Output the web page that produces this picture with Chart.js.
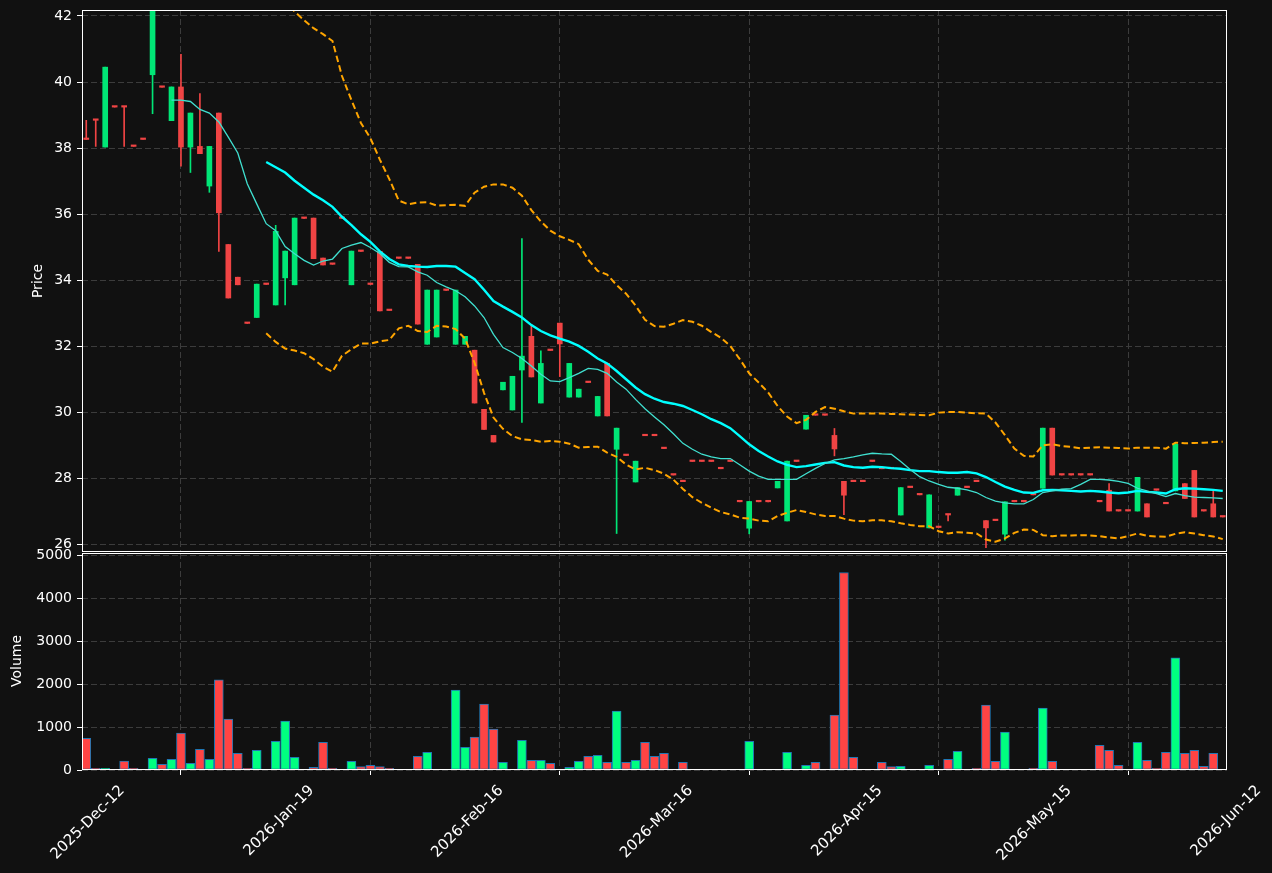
<!DOCTYPE html>
<html><head><meta charset="utf-8">
<script src="https://cdn.jsdelivr.net/npm/chart.js@4.4.1/dist/chart.umd.min.js"></script>
<style>
html,body{margin:0;padding:0;background:#111111;width:1272px;height:873px;overflow:hidden;}
canvas{position:absolute;left:0;}
#pc{top:0;} #vc{top:540px;}
</style></head><body>
<canvas id="pc" width="1272" height="560"></canvas>
<canvas id="vc" width="1272" height="333"></canvas>
<script>
const tickPositions = [0, 20, 40, 60, 80, 100, 120];
const tickLabels = ['2025-Dec-12', '2026-Jan-19', '2026-Feb-16', '2026-Mar-16', '2026-Apr-15', '2026-May-15', '2026-Jun-12'];
const priceTicks = [26, 28, 30, 32, 34, 36, 38, 40, 42];
const volumeTicks = [0, 1000, 2000, 3000, 4000, 5000];

const openP = [38.26,38.84,38.03,39.24,39.24,38.05,38.26,40.22,39.84,38.83,39.85,38.03,38.05,36.85,39.06,35.08,34.09,32.69,32.87,33.87,
33.25,34.07,33.86,35.87,35.88,34.67,34.48,35.87,33.86,34.87,33.87,34.87,33.08,34.66,34.66,34.48,32.06,32.28,33.69,32.06,
32.06,31.88,30.09,29.30,30.68,30.07,31.28,32.30,30.28,31.87,32.70,30.46,30.46,30.90,29.89,31.48,28.88,28.69,27.89,29.29,
29.29,28.90,28.10,27.90,28.51,28.51,28.51,28.29,28.51,27.29,26.49,27.29,27.29,27.71,26.71,28.51,29.49,29.91,29.91,29.30,
27.91,27.90,27.90,28.51,28.29,28.29,26.89,27.72,27.50,26.50,26.51,26.89,27.49,27.72,27.90,26.72,26.72,26.31,27.29,27.29,
27.50,27.70,29.52,28.10,28.10,28.10,28.10,27.29,27.64,27.01,27.01,27.01,27.23,27.64,27.23,27.62,27.84,28.24,27.01,27.23,26.83];
const highP = [38.84,38.84,40.45,39.24,39.24,38.05,38.26,42.47,39.84,39.85,40.84,39.06,39.65,38.05,39.06,35.08,34.09,32.69,33.88,33.87,
35.66,34.88,35.88,35.87,35.88,34.67,34.48,35.87,34.88,34.87,33.87,34.87,33.08,34.66,34.66,34.48,33.70,33.70,33.69,33.70,
32.30,31.88,30.09,29.30,30.91,31.09,35.26,32.62,31.86,31.87,32.70,31.48,30.70,30.90,30.48,31.48,29.52,28.69,28.52,29.29,
29.29,28.90,28.10,27.90,28.51,28.51,28.51,28.29,28.51,27.29,27.30,27.29,27.29,27.91,28.52,28.51,29.91,29.91,29.91,29.51,
27.91,27.90,27.90,28.51,28.29,28.29,27.72,27.72,27.50,27.50,26.51,26.89,27.72,27.72,27.90,26.72,26.72,27.29,27.29,27.29,
27.50,29.52,29.52,28.10,28.10,28.10,28.10,27.29,27.84,27.01,27.01,28.03,27.23,27.64,27.23,29.09,27.84,28.24,27.01,27.64,26.83];
const lowP = [38.26,38.05,38.03,39.24,38.05,38.05,38.26,39.04,39.84,38.83,37.45,37.26,37.83,36.66,34.87,33.46,33.86,32.69,32.87,33.87,
33.25,33.25,33.86,35.87,34.65,34.46,34.48,35.87,33.86,34.87,33.87,33.07,33.08,34.66,34.66,32.67,32.06,32.28,33.69,32.06,
32.06,30.28,29.48,29.10,30.68,30.07,29.69,31.07,30.28,31.87,31.08,30.46,30.46,30.90,29.89,29.89,26.33,28.69,27.89,29.29,
29.29,28.90,28.10,27.90,28.51,28.51,28.51,28.29,28.51,27.29,26.32,27.29,27.29,27.71,26.71,28.51,29.49,29.91,29.91,28.68,
26.90,27.90,27.90,28.51,28.29,28.29,26.89,27.72,27.50,26.50,26.51,26.71,27.49,27.72,27.90,25.90,26.72,26.13,27.29,27.29,
27.50,27.70,28.10,28.10,28.10,28.10,28.10,27.29,27.01,27.01,27.01,27.01,26.83,27.64,27.23,27.62,27.39,26.83,27.01,26.83,26.83];
const closeP = [38.26,38.84,40.45,39.24,39.24,38.05,38.26,42.47,39.84,39.85,38.03,39.06,37.83,38.05,36.04,33.46,33.86,32.69,33.88,33.87,
35.48,34.88,35.88,35.87,34.65,34.46,34.48,35.87,34.88,34.87,33.87,33.07,33.08,34.66,34.66,32.67,33.70,33.70,33.69,33.70,
32.30,30.28,29.48,29.10,30.91,31.09,31.70,31.07,31.48,31.87,32.07,31.48,30.70,30.90,30.48,29.89,29.52,28.69,28.52,29.29,
29.29,28.90,28.10,27.90,28.51,28.51,28.51,28.29,28.51,27.29,27.30,27.29,27.29,27.91,28.52,28.51,29.91,29.91,29.91,28.89,
27.49,27.90,27.90,28.51,28.29,28.29,27.72,27.72,27.50,27.50,26.51,26.89,27.72,27.72,27.90,26.50,26.72,27.29,27.29,27.29,
27.50,29.52,28.10,28.10,28.10,28.10,28.10,27.29,27.01,27.01,27.01,28.03,26.83,27.64,27.23,29.03,27.39,26.83,27.01,26.83,26.83];
const volume = [742,39,39,0,211,39,0,273,133,250,859,156,484,250,2102,1188,391,39,461,0,
672,1141,297,0,63,648,39,16,203,78,109,78,39,0,0,320,414,16,0,1867,
531,766,1539,953,180,16,695,227,227,156,16,63,203,320,344,180,1375,180,227,648,
320,391,0,180,0,0,0,12,12,12,672,0,0,16,414,0,109,180,0,1281,
4609,297,0,16,180,78,86,16,16,109,0,250,438,0,39,1516,203,883,0,0,
39,1445,203,0,0,0,0,578,461,109,0,648,227,39,414,2617,391,461,86,391,0];

const ma10Start = 9;
const ma10 = [39.45,39.45,39.41,39.17,39.06,38.79,38.33,37.85,36.92,36.31,35.71,35.50,35.02,34.80,34.60,34.46,34.58,34.64,34.96,35.06,
35.14,34.99,34.81,34.54,34.41,34.40,34.25,34.15,33.93,33.80,33.68,33.50,33.22,32.87,32.36,31.96,31.81,31.63,31.40,31.15,
30.95,30.93,31.05,31.18,31.33,31.30,31.18,30.92,30.70,30.39,30.11,29.86,29.62,29.35,29.06,28.88,28.73,28.65,28.60,28.60,
28.41,28.22,28.07,27.97,27.97,27.97,27.97,28.14,28.30,28.45,28.56,28.60,28.65,28.71,28.76,28.74,28.73,28.51,28.27,28.05,
27.92,27.82,27.73,27.70,27.65,27.57,27.42,27.31,27.26,27.23,27.23,27.36,27.57,27.62,27.67,27.69,27.82,27.97,27.97,27.95,
27.91,27.85,27.70,27.62,27.54,27.45,27.54,27.48,27.43,27.42,27.41,27.39];
const bandStart = 19;
const ma20 = [37.58,37.42,37.26,37.01,36.80,36.59,36.42,36.22,35.92,35.67,35.39,35.16,34.87,34.64,34.48,34.43,34.41,34.40,34.43,34.43,
34.41,34.22,34.03,33.71,33.37,33.20,33.04,32.87,32.64,32.46,32.33,32.23,32.14,32.01,31.83,31.63,31.48,31.25,31.00,30.75,
30.55,30.41,30.31,30.26,30.19,30.07,29.94,29.79,29.67,29.52,29.28,29.03,28.83,28.66,28.51,28.41,28.34,28.37,28.42,28.47,
28.49,28.39,28.34,28.32,28.35,28.34,28.31,28.29,28.25,28.22,28.22,28.19,28.17,28.17,28.19,28.15,28.04,27.89,27.75,27.65,
27.57,27.56,27.64,27.65,27.64,27.62,27.60,27.62,27.60,27.57,27.55,27.57,27.62,27.59,27.57,27.54,27.67,27.70,27.69,27.67,
27.65,27.62];
const upperBand = [42.77,42.70,42.50,42.13,41.87,41.63,41.45,41.24,40.18,39.45,38.76,38.30,37.65,37.06,36.41,36.30,36.35,36.36,36.26,36.27,
36.28,36.25,36.65,36.83,36.90,36.90,36.80,36.56,36.12,35.78,35.50,35.33,35.22,35.09,34.62,34.28,34.17,33.85,33.59,33.23,
32.80,32.61,32.59,32.68,32.79,32.74,32.62,32.43,32.26,32.01,31.61,31.18,30.90,30.60,30.19,29.87,29.67,29.77,30.01,30.16,
30.11,30.03,29.96,29.96,29.96,29.96,29.95,29.94,29.93,29.92,29.91,29.99,30.01,30.01,29.99,29.97,29.96,29.69,29.31,28.90,
28.68,28.66,29.00,29.03,28.98,28.95,28.91,28.93,28.94,28.93,28.92,28.90,28.93,28.93,28.93,28.90,29.08,29.06,29.07,29.08,
29.10,29.11];
const lowerBand = [32.39,32.13,31.93,31.87,31.79,31.61,31.38,31.23,31.71,31.91,32.08,32.08,32.15,32.19,32.54,32.62,32.46,32.43,32.62,32.60,
32.52,32.23,31.50,30.59,29.84,29.50,29.28,29.18,29.16,29.11,29.13,29.11,29.05,28.93,28.95,28.96,28.78,28.65,28.42,28.27,
28.32,28.25,28.14,27.96,27.68,27.43,27.26,27.11,26.98,26.91,26.81,26.78,26.72,26.70,26.86,26.96,27.04,26.98,26.91,26.86,
26.86,26.78,26.72,26.70,26.73,26.73,26.70,26.64,26.59,26.55,26.55,26.40,26.33,26.37,26.35,26.33,26.15,26.08,26.18,26.35,
26.45,26.44,26.28,26.25,26.27,26.27,26.28,26.27,26.25,26.21,26.18,26.25,26.33,26.26,26.24,26.23,26.32,26.37,26.33,26.28,
26.24,26.16];

const UP = '#00E676', DOWN = '#F04444', VUP = '#00FF80', VDOWN = '#FF4444';
const GRID = '#3c3c3c';
const FONT = {family: '"DejaVu Sans", sans-serif', size: 14};
const XFONT = {family: '"DejaVu Sans", sans-serif', size: 15};
const candleColors = closeP.map((c, i) => c > openP[i] ? UP : DOWN);
const volColors = closeP.map((c, i) => c > openP[i] ? VUP : VDOWN);

const framePlugin = {
  id: 'frame',
  afterDraw(chart, args, opts) {
    const {ctx, chartArea: a} = chart;
    ctx.save();
    ctx.strokeStyle = '#ffffff';
    ctx.lineWidth = 1;
    ctx.strokeRect(Math.round(a.left) + 0.5, Math.round(a.top) + 0.5, Math.round(a.right - a.left) - 1, Math.round(a.bottom - a.top) - 1);
    if (opts.title) {
      ctx.translate(opts.tx, opts.ty);
      ctx.rotate(-Math.PI / 2);
      ctx.fillStyle = '#ffffff';
      ctx.font = '14px "DejaVu Sans", sans-serif';
      ctx.textAlign = 'center';
      ctx.textBaseline = 'middle';
      ctx.fillText(opts.title, 0, 0);
    }
    ctx.restore();
  }
};

const pts = (arr, start) => arr.map((v, k) => ({x: k + start, y: v}));
const noPadY = w => s => { s.width = w; s.paddingTop = 0; s.paddingBottom = 0; };

const xBase = {
  type: 'linear', min: -0.45, max: 120.45, offset: false,
  afterBuildTicks: s => { s.ticks = tickPositions.map(v => ({value: v})); },
  border: {display: false, dash: [6, 3]}
};

new Chart(document.getElementById('pc'), {
  type: 'bar',
  data: {datasets: [
    {type: 'line', label: 'MA10', data: pts(ma10, ma10Start), borderColor: '#40E0D0', borderWidth: 1.3, pointRadius: 0, tension: 0, order: 0},
    {type: 'line', label: 'MA20', data: pts(ma20, bandStart), borderColor: '#00FFFF', borderWidth: 2.4, pointRadius: 0, tension: 0, order: 0},
    {type: 'line', label: 'Upper', data: pts(upperBand, bandStart), borderColor: '#FFA500', borderWidth: 2, borderDash: [6.5, 3.5], pointRadius: 0, tension: 0, order: 0},
    {type: 'line', label: 'Lower', data: pts(lowerBand, bandStart), borderColor: '#FFA500', borderWidth: 2, borderDash: [6.5, 3.5], pointRadius: 0, tension: 0, order: 0},
    {label: 'Body', data: openP.map((o, i) => ({x: i, y: [o, closeP[i]]})), backgroundColor: candleColors, barThickness: 5, minBarLength: 1.5, grouped: false, order: 1},
    {label: 'Wick', data: lowP.map((l, i) => ({x: i, y: [l, highP[i]]})), backgroundColor: candleColors, barThickness: 1, grouped: false, order: 2}
  ]},
  options: {
    responsive: false, animation: false, devicePixelRatio: 1,
    layout: {padding: {top: 10, right: 45, bottom: 8, left: 0}},
    plugins: {legend: {display: false}, tooltip: {enabled: false}, frame: {title: 'Price', tx: 38, ty: 281}},
    scales: {
      x: Object.assign({}, xBase, {
        ticks: {display: false},
        grid: {color: GRID, drawTicks: false},
        afterFit: s => { s.height = 0; s.paddingLeft = 0; s.paddingRight = 0; }
      }),
      y: {
        type: 'linear', min: 25.77, max: 42.18,
        afterBuildTicks: s => { s.ticks = priceTicks.map(v => ({value: v})); },
        ticks: {color: '#ffffff', font: FONT, padding: 5, callback: v => String(v)},
        grid: {color: GRID, tickColor: '#ffffff', tickLength: 5, tickBorderDash: [], drawTicks: true},
        border: {display: false, dash: [6, 3]},
        afterFit: noPadY(82)
      }
    }
  },
  plugins: [framePlugin]
});

new Chart(document.getElementById('vc'), {
  type: 'bar',
  data: {datasets: [
    {label: 'Volume', data: volume.map((v, i) => ({x: i, y: v})), backgroundColor: volColors, borderColor: '#1f77b4', borderWidth: 1, borderSkipped: false, barThickness: 9, grouped: false}
  ]},
  options: {
    responsive: false, animation: false, devicePixelRatio: 1,
    layout: {padding: {top: 13, right: 45, bottom: 0, left: 0}},
    plugins: {legend: {display: false}, tooltip: {enabled: false}, frame: {title: 'Volume', tx: 17, ty: 121}},
    scales: {
      x: Object.assign({}, xBase, {
        ticks: {display: true, color: '#ffffff', font: XFONT, minRotation: 45, maxRotation: 45, autoSkip: false, labelOffset: 36, padding: 7,
          callback: v => tickLabels[tickPositions.indexOf(v)]},
        grid: {color: GRID, tickColor: '#ffffff', tickLength: 5, tickBorderDash: [], drawTicks: true},
        afterFit: s => { s.height = 103; s.paddingLeft = 0; s.paddingRight = 0; }
      }),
      y: {
        type: 'linear', min: 0, max: 5065,
        afterBuildTicks: s => { s.ticks = volumeTicks.map(v => ({value: v})); },
        ticks: {color: '#ffffff', font: FONT, padding: 5, callback: v => String(v)},
        grid: {color: GRID, tickColor: '#ffffff', tickLength: 5, tickBorderDash: [], drawTicks: true},
        border: {display: false, dash: [6, 3]},
        afterFit: noPadY(82)
      }
    }
  },
  plugins: [framePlugin]
});
</script>
</body></html>
